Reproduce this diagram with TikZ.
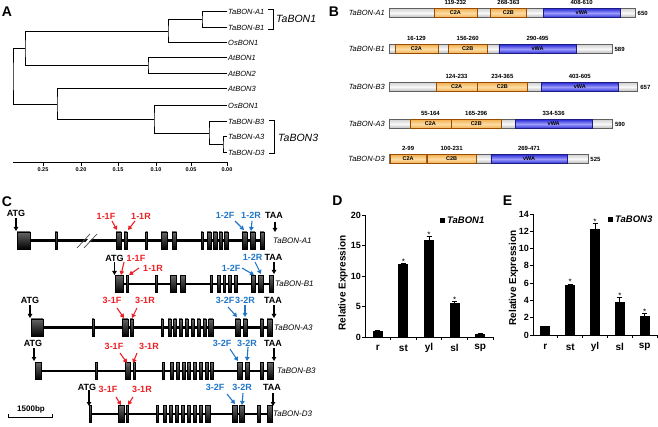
\documentclass[tikz,border=0pt]{standalone}
\usepackage{fontspec}
\setmainfont{Liberation Sans}
\usetikzlibrary{positioning,arrows.meta}

\definecolor{primred}{RGB}{236,32,36}
\definecolor{primblue}{RGB}{32,118,200}
\definecolor{domorange}{RGB}{243,176,80}
\definecolor{domlight}{RGB}{252,220,165}
\definecolor{vwablue}{RGB}{45,45,215}
\definecolor{vwalight}{RGB}{155,155,252}

\begin{document}
\begin{tikzpicture}[x=1pt, y=-1pt,
  panel/.style={inner sep=0pt, font=\fontsize{14}{14}\selectfont\bfseries},
  leaf/.style={anchor=west, inner sep=1pt, font=\fontsize{7.5}{8}\selectfont\itshape},
  branch/.style={line width=1pt},
  clade/.style={anchor=west, inner sep=0pt, font=\fontsize{10.5}{11}\selectfont\itshape},
  scalelab/.style={inner sep=0pt, font=\fontsize{5.5}{6}\selectfont\bfseries},
  protname/.style={anchor=east, inner sep=1pt, font=\fontsize{7.5}{8}\selectfont\itshape},
  rangelab/.style={inner sep=0pt, font=\fontsize{6}{6}\selectfont\bfseries},
  dom/.style={inner sep=0pt, font=\fontsize{5.5}{6}\selectfont\bfseries},
  graybar/.style={draw=gray!75!black, line width=0.4pt, top color=gray!35, bottom color=gray!55, middle color=gray!5},
  orangebox/.style={draw=orange!60!black, line width=0.4pt, top color=domorange, bottom color=domorange, middle color=domlight},
  bluebox/.style={draw=vwablue!60!black, line width=0.4pt, top color=vwablue, bottom color=vwablue, middle color=vwalight},
  gene/.style={line width=2.4pt},
  exon/.style={draw=black, line width=0.3pt, top color=black!60, bottom color=black},
  genename/.style={anchor=west, inner sep=0pt, font=\fontsize{8}{8}\selectfont\itshape},
  site/.style={inner sep=0pt, font=\fontsize{9}{9}\selectfont\bfseries},
  sitearrow/.style={line width=1.1pt, -{Triangle[length=4pt,width=4.5pt]}},
  axisline/.style={line width=0.9pt},
  ticklab/.style={anchor=east, inner sep=0pt, font=\fontsize{9}{9}\selectfont\bfseries},
  catlab/.style={inner sep=0pt, font=\fontsize{10}{10}\selectfont\bfseries},
  ylab/.style={rotate=90, inner sep=0pt, font=\fontsize{10}{10}\selectfont\bfseries},
  legend/.style={anchor=west, inner sep=0pt, font=\fontsize{9.5}{10}\selectfont\bfseries\itshape},
  star/.style={inner sep=0pt, font=\fontsize{8}{8}\selectfont}
]
\useasboundingbox (0,0) rectangle (658,427);

% panel letters
\node[panel] (pA) at (7,12) {A};
\node[panel] (pB) at (334,12) {B};
\node[panel] (pC) at (7,202) {C};
\node[panel] (pD) at (337.5,201) {D};
\node[panel] (pE) at (507.5,201) {E};

% A: tree
\node[leaf] (ta1) at (227,12) {TaBON-A1};
\node[leaf] (tb1) at (227,28) {TaBON-B1};
\node[leaf] (os1) at (227,43) {OsBON1};
\node[leaf] (at1) at (227,58) {AtBON1};
\node[leaf] (at2) at (227,74) {AtBON2};
\node[leaf] (at3) at (227,89) {AtBON3};
\node[leaf] (os3) at (227,106) {OsBON1};
\node[leaf] (tb3) at (227,122) {TaBON-B3};
\node[leaf] (ta3) at (227,137) {TaBON-A3};
\node[leaf] (td3) at (227,153) {TaBON-D3};

\coordinate (k1) at (202,20);
\coordinate (k2) at (168,31.5);
\coordinate (k3) at (148,66);
\coordinate (k4) at (25,48.75);
\coordinate (k5) at (223,145);
\coordinate (k6) at (209,133.5);
\coordinate (k7) at (154,119.75);
\coordinate (k8) at (57,104.375);
\coordinate (k9) at (13,76.56);

\draw[branch] (ta1.west) -| (k1) |- (tb1.west);
\draw[branch] (k1) -| (k2) |- (os1.west);
\draw[branch] (at1.west) -| (k3) |- (at2.west);
\draw[branch] (k2) -| (k4) |- (k3);
\draw[branch] (ta3.west) -| (k5) |- (td3.west);
\draw[branch] (tb3.west) -| (k6) |- (k5);
\draw[branch] (os3.west) -| (k7) |- (k6);
\draw[branch] (at3.west) -| (k8) |- (k7);
\draw[branch] (k4) -| (k9) |- (k8);

% clade brackets
\node[clade] (c1) at (276,19) {TaBON1};
\draw[line width=1pt] (268,10) -| (273,30) -- (268,30);
\node[clade] (c3) at (278,137.5) {TaBON3};
\draw[line width=1pt] (269,121) -| (274,154) -- (269,154);

% scale axis
\draw[branch] (13,163) -- (228,163);
\foreach \v/\xx [count=\i] in {0.25/43,0.20/81,0.15/118,0.10/156,0.05/191,0.00/227}{
  \draw[branch] (\xx,163) -- ++(0,3);
  \node[scalelab] (sc\i) at (\xx,170) {\v};
}

% B: domains
\foreach \nm/\yy/\len/\as/\ae/\bs/\be/\vs/\ve [count=\i] in {
  TaBON-A1/13/650/119/232/268/363/408/610,
  TaBON-B1/49/589/16/129/156/260/290/495,
  TaBON-B3/87/657/124/233/234/365/403/605,
  TaBON-A3/124/590/55/164/165/296/334/536,
  TaBON-D3/159/525/2/99/100/231/269/471}{
  \node[protname] (pn\i) at (386,\yy) {\nm};
  \draw[graybar] (389,\yy-4.5) rectangle (389+\len*0.3785,\yy+4.5);
  \draw[orangebox] (389+\as*0.3785,\yy-4.5) rectangle (389+\ae*0.3785,\yy+4.5);
  \draw[orangebox] (389+\bs*0.3785,\yy-4.5) rectangle (389+\be*0.3785,\yy+4.5);
  \draw[bluebox] (389+\vs*0.3785,\yy-4.5) rectangle (389+\ve*0.3785,\yy+4.5);
  \node[dom] (da\i) at (389+\as*0.18925+\ae*0.18925,\yy) {C2A};
  \node[dom] (db\i) at (389+\bs*0.18925+\be*0.18925,\yy) {C2B};
  \node[dom] (dv\i) at (389+\vs*0.18925+\ve*0.18925,\yy) {vWA};
  \node[rangelab] (ra\i) at (389+\as*0.18925+\ae*0.18925,\yy-10.5) {\as-\ae};
  \node[rangelab] (rb\i) at (389+\bs*0.18925+\be*0.18925,\yy-10.5) {\bs-\be};
  \node[rangelab] (rv\i) at (389+\vs*0.18925+\ve*0.18925,\yy-10.5) {\vs-\ve};
  \node[rangelab, anchor=west] (ln\i) at (391.5+\len*0.3785,\yy) {\len};
}

% C: gene structures
% TaBON-A1
\draw[gene] (17,240.5) -- (264,240.5);
\foreach \a/\b in {17/30,55/57.5,116/121,124/127,145.5/147.5,161/167,172/176.5,201/203,207/211,213/217,219/222,224/228,242/247,250/255,260/264}
  \draw[exon] (\a,232) rectangle (\b,249);
\fill[white] (81,247) -- (92,235) -- (95,235) -- (84,247) -- cycle;
\draw[gray!60!black, line width=0.7pt] (77,248) -- (90,234);
\draw[gray!60!black, line width=0.7pt] (84,248) -- (97,234);
\node[genename] (gA1) at (273,240.5) {TaBON-A1};
\node[site] (atgA1) at (16,213) {ATG};
\node[site, primred] (fA1) at (106,216) {1-1F};
\node[site, primred] (rA1) at (141,216) {1-1R};
\node[site, primblue] (fA1b) at (225,215) {1-2F};
\node[site, primblue] (rA1b) at (251,215) {1-2R};
\node[site] (taaA1) at (274,215) {TAA};
\draw[sitearrow] (atgA1.center) ++(0,5) -- ++(0,13);
\draw[sitearrow, primred] (fA1.center) ++(6,5) -- ++(5,9);
\draw[sitearrow, primred] (rA1.center) ++(-6,5) -- ++(-7,9);
\draw[sitearrow, primblue] (fA1b.center) ++(10,6) -- ++(9,9);
\draw[sitearrow, primblue] (rA1b.center) ++(1,6) -- ++(-1,10);
\draw[sitearrow] (taaA1.center) ++(1,7) -- ++(0,10);

% TaBON-B1
\draw[gene] (115,284) -- (273,284);
\foreach \a/\b in {115/123,126/128.5,155/157,170/176,180/185,210/212,217/220,223/225.5,228/231,234/237,251/255,258/263,269/273}
  \draw[exon] (\a,275.5) rectangle (\b,292.5);
\node[genename] (gB1) at (275,284) {TaBON-B1};
\node[site] (atgB1) at (114.5,258) {ATG};
\node[site, primred] (fB1) at (136,258) {1-1F};
\node[site, primred] (rB1) at (153,268) {1-1R};
\node[site, primblue] (fB1b) at (231,268) {1-2F};
\node[site, primblue] (rB1b) at (252.5,257) {1-2R};
\node[site] (taaB1) at (273.5,257) {TAA};
\draw[sitearrow] (atgB1.center) ++(0,4) -- ++(0,13);
\draw[sitearrow, primred] (fB1.center) ++(-12,4) -- ++(-3,13);
\draw[sitearrow, primred] (rB1.center) ++(-14,0) -- ++(-10,7);
\draw[sitearrow, primblue] (fB1b.center) ++(11,0) -- ++(12,7);
\draw[sitearrow, primblue] (rB1b.center) ++(2.5,5) -- ++(6,12);
\draw[sitearrow] (taaB1.center) ++(0.5,5) -- ++(0,12);

% TaBON-A3
\draw[gene] (31,327.5) -- (272,327.5);
\foreach \a/\b in {31/43,92/94,122/128,130/133,161/163,168/171,173.5/176.5,179/182,185/188,191/194,197/200,203/206,208.5/213,235/240,243/247,260/263,267/272}
  \draw[exon] (\a,319) rectangle (\b,336);
\node[genename] (gA3) at (274,327.5) {TaBON-A3};
\node[site] (atgA3) at (30,300) {ATG};
\node[site, primred] (fA3) at (112,300) {3-1F};
\node[site, primred] (rA3) at (145,300) {3-1R};
\node[site, primblue] (fA3b) at (225,300) {3-2F};
\node[site, primblue] (rA3b) at (245,300) {3-2R};
\node[site] (taaA3) at (273,300) {TAA};
\draw[sitearrow] (atgA3.center) ++(0,5) -- ++(0,13);
\draw[sitearrow, primred] (fA3.center) ++(5,8) -- ++(7,10);
\draw[sitearrow, primred] (rA3.center) ++(-8,8) -- ++(-5,10);
\draw[sitearrow, primblue] (fA3b.center) ++(3,7) -- ++(9,10);
\draw[sitearrow, primblue] (rA3b.center) ++(0,5) -- ++(0,12);
\draw[sitearrow] (taaA3.center) ++(1,5) -- ++(0,13);

% TaBON-B3
\draw[gene] (35,371) -- (273,371);
\foreach \a/\b in {35/41,95/97,125/130,133/135,162/164,170/173,176/179,182/185,187/190,193/196,199/202,205/208,210/213,237/242,245/249,260/263,267/273}
  \draw[exon] (\a,362.5) rectangle (\b,379.5);
\node[genename] (gB3) at (277,371) {TaBON-B3};
\node[site] (atgB3) at (33,343) {ATG};
\node[site, primred] (fB3) at (114,346) {3-1F};
\node[site, primred] (rB3) at (149,346) {3-1R};
\node[site, primblue] (fB3b) at (222,343) {3-2F};
\node[site, primblue] (rB3b) at (247,343) {3-2R};
\node[site] (taaB3) at (273,343) {TAA};
\draw[sitearrow] (atgB3.center) ++(1,5) -- ++(0,13);
\draw[sitearrow, primred] (fB3.center) ++(6,7) -- ++(7,10);
\draw[sitearrow, primred] (rB3.center) ++(-12,7) -- ++(-4,10);
\draw[sitearrow, primblue] (fB3b.center) ++(8,6) -- ++(8,12);
\draw[sitearrow, primblue] (rB3b.center) ++(1,4) -- ++(-1,14);
\draw[sitearrow] (taaB3.center) ++(1,5) -- ++(0,13);

% TaBON-D3
\draw[gene] (90,414) -- (272,414);
\foreach \a/\b in {89.5/91.5,118/124,126/128,156/158,163/166,169/172,175/178,181/184,187/190,193/196,199/202,205/210,232/237,239/244,257/260,267/272}
  \draw[exon] (\a,405.5) rectangle (\b,422.5);
\node[genename] (gD3) at (273,414) {TaBON-D3};
\node[site] (atgD3) at (87,387) {ATG};
\node[site, primred] (fD3) at (108,389) {3-1F};
\node[site, primred] (rD3) at (142,389) {3-1R};
\node[site, primblue] (fD3b) at (215,387) {3-2F};
\node[site, primblue] (rD3b) at (242,387) {3-2R};
\node[site] (taaD3) at (272,387) {TAA};
\draw[sitearrow] (atgD3.center) ++(2,3) -- ++(0,16);
\draw[sitearrow, primred] (fD3.center) ++(8,8) -- ++(5,8);
\draw[sitearrow, primred] (rD3.center) ++(-9,8) -- ++(-5,8);
\draw[sitearrow, primblue] (fD3b.center) ++(12,7) -- ++(8,10);
\draw[sitearrow, primblue] (rD3b.center) ++(1,6) -- ++(-1,12);
\draw[sitearrow] (taaD3.center) ++(1,6) -- ++(0,13);

% scale bar
\node[site, font=\fontsize{8}{8}\selectfont\bfseries] (sbar) at (31,409) {1500bp};
\draw[line width=1pt] (8,414) -- (8,417) -- (52,417) -- (52,414);

% D: TaBON1 expression
\draw[axisline] (365,215) -- (365,337) -- (493,337);
\foreach \v in {0,5,10,15,20}{
  \draw[axisline] (365,337-\v*6.1) -- ++(-3,0);
  \node[ticklab] (dy\v) at (361,337-\v*6.1) {\v};
}
\foreach \k in {1,...,5}
  \draw[axisline] (365+\k*25.6,337) -- ++(0,3);
\foreach \c/\v/\e [count=\i] in {r/1.05/0.05,st/11.9/0.15,yl/15.9/0.6,sl/5.65/0.15,sp/0.55/0.05}{
  \pgfmathsetmacro{\cx}{352.2+\i*25.6}
  \pgfmathsetmacro{\ytop}{337-\v*6.1}
  \pgfmathsetmacro{\yerr}{337-(\v+\e)*6.1}
  \fill (\cx-5,337) rectangle (\cx+5,\ytop);
  \draw[line width=0.7pt] (\cx,\ytop) -- (\cx,\yerr);
  \draw[line width=0.7pt] (\cx-2.5,\yerr) -- (\cx+2.5,\yerr);
  \node[catlab] (dc\i) at (\cx,348) {\c};
}
\foreach \i/\v in {2/12.05,3/16.5,4/5.8}
  \node[star] (ds\i) at (352.2+\i*25.6,335-\v*6.1) {*};
\node[ylab] (dyl) at (343,283) {Relative Expression};
\fill (440,218) rectangle (445,223);
\node[legend] (dleg) at (447,220.5) {TaBON1};

% E: TaBON3 expression
\draw[axisline] (533,214) -- (533,335) -- (657,335);
\foreach \v in {0,2,...,14}{
  \draw[axisline] (533,335-\v*8.64) -- ++(-3,0);
  \node[ticklab] (ey\v) at (529,335-\v*8.64) {\v};
}
\foreach \k in {1,...,5}
  \draw[axisline] (533+\k*24.8,335) -- ++(0,3);
\foreach \c/\v/\e [count=\i] in {r/1.0/0.03,st/5.8/0.1,yl/12.3/0.6,sl/3.85/0.45,sp/2.2/0.3}{
  \pgfmathsetmacro{\cx}{520.6+\i*24.8}
  \pgfmathsetmacro{\ytop}{335-\v*8.64}
  \pgfmathsetmacro{\yerr}{335-(\v+\e)*8.64}
  \fill (\cx-5,335) rectangle (\cx+5,\ytop);
  \draw[line width=0.7pt] (\cx,\ytop) -- (\cx,\yerr);
  \draw[line width=0.7pt] (\cx-2.5,\yerr) -- (\cx+2.5,\yerr);
  \node[catlab] (ec\i) at (\cx,347) {\c};
}
\foreach \i/\v in {2/5.9,3/12.9,4/4.3,5/2.5}
  \node[star] (es\i) at (520.6+\i*24.8,333-\v*8.64) {*};
\node[ylab] (eyl) at (513.5,278) {Relative Expression};
\fill (608,217) rectangle (613,222);
\node[legend] (eleg) at (615,219.5) {TaBON3};
\end{tikzpicture}
\end{document}
